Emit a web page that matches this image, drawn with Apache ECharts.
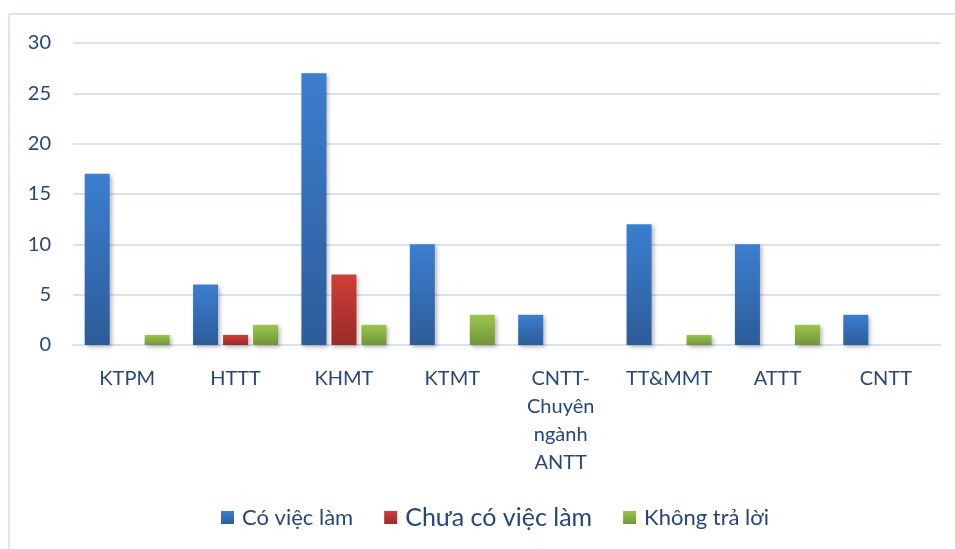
<!DOCTYPE html>
<html>
<head>
<meta charset="utf-8">
<script src="https://cdn.jsdelivr.net/npm/echarts@6/dist/echarts.min.js"></script>
<style>html,body{margin:0;padding:0;background:#fff}#c{width:955px;height:549px}</style>
</head>
<body>
<div id="c"></div>
<script>
var categories = ["KTPM", "HTTT", "KHMT", "KTMT", "CNTT-Chuyên ngành ANTT", "TT&MMT", "ATTT", "CNTT"];
var coViecLam = [17, 6, 27, 10, 3, 12, 10, 3];
var chuaCoViecLam = [0, 1, 7, 0, 0, 0, 0, 0];
var khongTraLoi = [1, 2, 2, 3, 0, 1, 2, 0];
var seriesNames = ["Có việc làm", "Chưa có việc làm", "Không trả lời"];
var yTicks = [0, 5, 10, 15, 20, 25, 30];

var FONT = "Lato, 'Open Sans', sans-serif";
var TXT = "#264778";
function grad(top, bottom) {
  return new echarts.graphic.LinearGradient(0, 0, 0, 1, [{offset: 0, color: top}, {offset: 1, color: bottom}]);
}
var colors = [grad('#3c7ed0', '#2c5c99'), grad('#d03d39', '#992b27'), grad('#9cc649', '#72953a')];
var legendColors = ['#3566ab', '#b4332f', '#86ad40'];
function bar(name, data, i) {
  return {
    name: name, type: 'bar', data: data, barWidth: 25, barGap: '20%',
    itemStyle: {color: colors[i], shadowBlur: 4, shadowColor: 'rgba(0,0,0,0.28)', shadowOffsetX: 2, shadowOffsetY: 2},
    emphasis: {disabled: true}
  };
}
var chart = echarts.init(document.getElementById('c'), null, {renderer: 'canvas'});
chart.setOption({
  animation: false,
  backgroundColor: '#fff',
  color: legendColors,
  graphic: [{type: 'rect', shape: {x: 9, y: 14, width: 960, height: 560}, style: {fill: 'none', stroke: '#d9e5f4', lineWidth: 2}, silent: true}],
  grid: {left: 73, right: 15, top: 43, bottom: 204, containLabel: false},
  xAxis: {
    type: 'category', data: categories,
    axisLine: {show: true, lineStyle: {color: '#d6e2f2', width: 2}},
    axisTick: {show: false},
    axisLabel: {
      interval: 0, margin: 20, color: TXT, fontFamily: FONT, fontSize: 20, lineHeight: 28,
      formatter: function (v) { return v.replace('-', '-\n').replace(/ /g, '\n'); }
    }
  },
  yAxis: {
    type: 'value', min: yTicks[0], max: yTicks[yTicks.length - 1], interval: 5,
    axisLine: {show: false}, axisTick: {show: false},
    splitLine: {lineStyle: {color: '#d6e2f2', width: 2}},
    axisLabel: {margin: 22, color: TXT, fontFamily: FONT, fontSize: 20}
  },
  legend: {
    left: 216, top: 500, icon: 'rect', itemWidth: 13, itemHeight: 13, itemGap: 31,
    textStyle: {color: TXT, fontFamily: FONT, fontSize: 22, padding: [0, 0, 0, 3]},
    data: [
      {name: seriesNames[0]},
      {name: seriesNames[1], textStyle: {fontSize: 25}},
      {name: seriesNames[2]}
    ]
  },
  series: [bar(seriesNames[0], coViecLam, 0), bar(seriesNames[1], chuaCoViecLam, 1), bar(seriesNames[2], khongTraLoi, 2)]
});
</script>
</body>
</html>
